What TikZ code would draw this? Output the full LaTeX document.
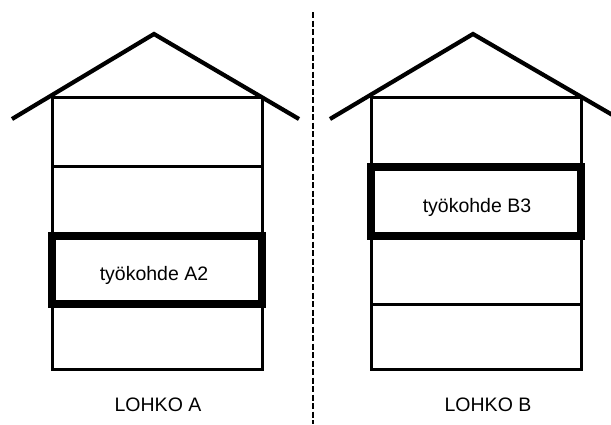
\documentclass[tikz,border=0pt]{standalone}
\usepackage{fontspec}
\setmainfont{Liberation Sans}
\usetikzlibrary{calc}

\begin{document}
\begin{tikzpicture}[x=1pt,y=-1pt,line join=miter,font=\fontsize{19.5}{23}\selectfont]

\useasboundingbox (0,0) rectangle (611,424);

% lohko A
\draw[line width=4.2pt] (12,119) -- (154,34) -- (299,119);
\draw[line width=3pt] (52,97) rectangle (262,369);
\draw[line width=3pt] (52,166) -- (262,166);
\draw[line width=7.8pt] (52,236) rectangle (262,304);
\node (kohdeA) at (154,275) {työkohde A2};
\node (lohkoA) at (158,405) {LOHKO A};

% raja
\draw[line width=1.1pt,dash pattern=on 6pt off 2.5pt] (313,12) -- (313,424);

% lohko B
\draw[line width=4.2pt] (330,119) -- (473,34) -- (616,117);
\draw[line width=3pt] (371,97) rectangle (581,369);
\draw[line width=3pt] (371,304) -- (581,304);
\draw[line width=7.8pt] (371,167) rectangle (581,236);
\node (kohdeB) at (477,207) {työkohde B3};
\node (lohkoB) at (488,405) {LOHKO B};

\end{tikzpicture}
\end{document}
